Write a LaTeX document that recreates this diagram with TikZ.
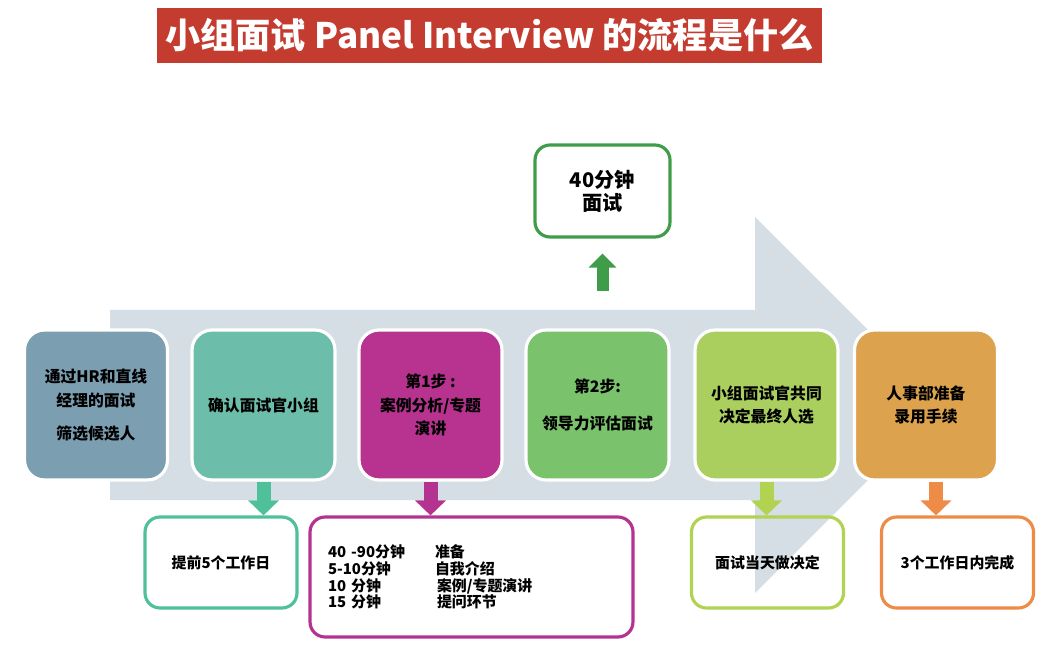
\documentclass[tikz,border=0pt]{standalone}
\usepackage{fontspec}
\setmainfont{Noto Sans CJK SC}
\usetikzlibrary{shapes,arrows.meta}
\definecolor{bandred}{HTML}{C43B2F}
\definecolor{flowgray}{HTML}{D5DEE4}
\definecolor{hrblue}{HTML}{7B9EB1}
\definecolor{panelteal}{HTML}{6CBEAA}
\definecolor{caseplum}{HTML}{B7338F}
\definecolor{leadgreen}{HTML}{7BC26C}
\definecolor{decidelime}{HTML}{AACF5F}
\definecolor{offerorange}{HTML}{DCA24D}
\definecolor{tealline}{HTML}{4EC09A}
\definecolor{plumline}{HTML}{B43290}
\definecolor{limeline}{HTML}{B2D251}
\definecolor{orangeline}{HTML}{EE8B47}
\definecolor{greenline}{HTML}{3F9D4A}

\begin{document}
\begin{tikzpicture}[x=0.02cm,y=-0.02cm,
    stepbox/.style={draw=white,line width=1.8pt,rounded corners=0.4cm,minimum width=2.86cm,minimum height=3cm,align=center,font=\fontsize{9}{13.6}\selectfont\bfseries},
    notebox/.style={line width=1.8pt,rounded corners=0.3cm,minimum width=3.04cm,minimum height=1.82cm,align=center,font=\fontsize{8.5}{10}\selectfont\bfseries},
    downarrow/.style={line width=0.28cm,-{Triangle[width=0.6cm,length=0.3cm]}}]
        \useasboundingbox(0,0)rectangle(1048,648);
        \node(title)at(489.5,35.5)[fill=bandred,minimum width=13.3cm,minimum height=1.1cm,text=white,font=\fontsize{20}{24}\selectfont\bfseries]{小组面试 Panel Interview 的流程是什么};
        \fill[flowgray](110,310)--(755,310)--(755,217)--(943,405)--(755,593)--(755,500)--(110,500)--cycle;
        \node(hr)at(96,405)[stepbox,fill=hrblue]{通过HR和直线\\经理的面试\\[5.6pt]筛选候选人};
        \node(panel)at(263.5,405)[stepbox,fill=panelteal]{确认面试官小组};
        \node(case)at(430.5,405)[stepbox,fill=caseplum]{第1步 :\\案例分析/专题\\演讲};
        \node(lead)at(597.5,405)[stepbox,fill=leadgreen]{第2步:\\[7.4pt]领导力评估面试};
        \node(decide)at(766.5,405)[stepbox,fill=decidelime]{小组面试官共同\\决定最终人选};
        \node(offer)at(926,405)[stepbox,fill=offerorange]{人事部准备\\录用手续};
        \node(talk)at(602.5,191)[notebox,draw=greenline,fill=white,minimum width=2.7cm,minimum height=1.84cm,font=\fontsize{11.5}{13}\selectfont\bfseries]{40分钟\\面试};
        \node(ahead)at(221,562.5)[notebox,draw=tealline]{提前5个工作日};
        \node(agenda)at(471.5,577)[notebox,draw=plumline,minimum width=6.46cm,minimum height=2.4cm,text width=5.74cm,inner xsep=0.36cm,align=left,font=\fontsize{8.5}{9.6}\selectfont\bfseries]{\makebox[2.14cm][l]{40 -90分钟}准备\\\makebox[2.14cm][l]{5-10分钟}自我介绍\\\makebox[2.18cm][l]{10 分钟}案例/专题演讲\\\makebox[2.18cm][l]{15 分钟}提问环节};
        \node(sameday)at(767.5,562.5)[notebox,draw=limeline]{面试当天做决定};
        \node(threedays)at(957.5,562.5)[notebox,draw=orangeline]{3个工作日内完成};
        \coordinate(offerfoot)at([xshift=0.2cm]offer.south);
        \draw[downarrow,tealline](panel.south)--(panel.south|-ahead.north);
        \draw[downarrow,plumline](case.south)--(case.south|-agenda.north);
        \draw[downarrow,limeline](decide.south)--(decide.south|-sameday.north);
        \draw[downarrow,orangeline](offerfoot)--(offerfoot|-threedays.north);
        \draw[greenline,line width=0.24cm,-{Triangle[width=0.54cm,length=0.28cm]},shorten <=0.74cm,shorten >=0.3cm](talk.south|-lead.north)--(talk.south);
    \end{tikzpicture}
\end{document}
